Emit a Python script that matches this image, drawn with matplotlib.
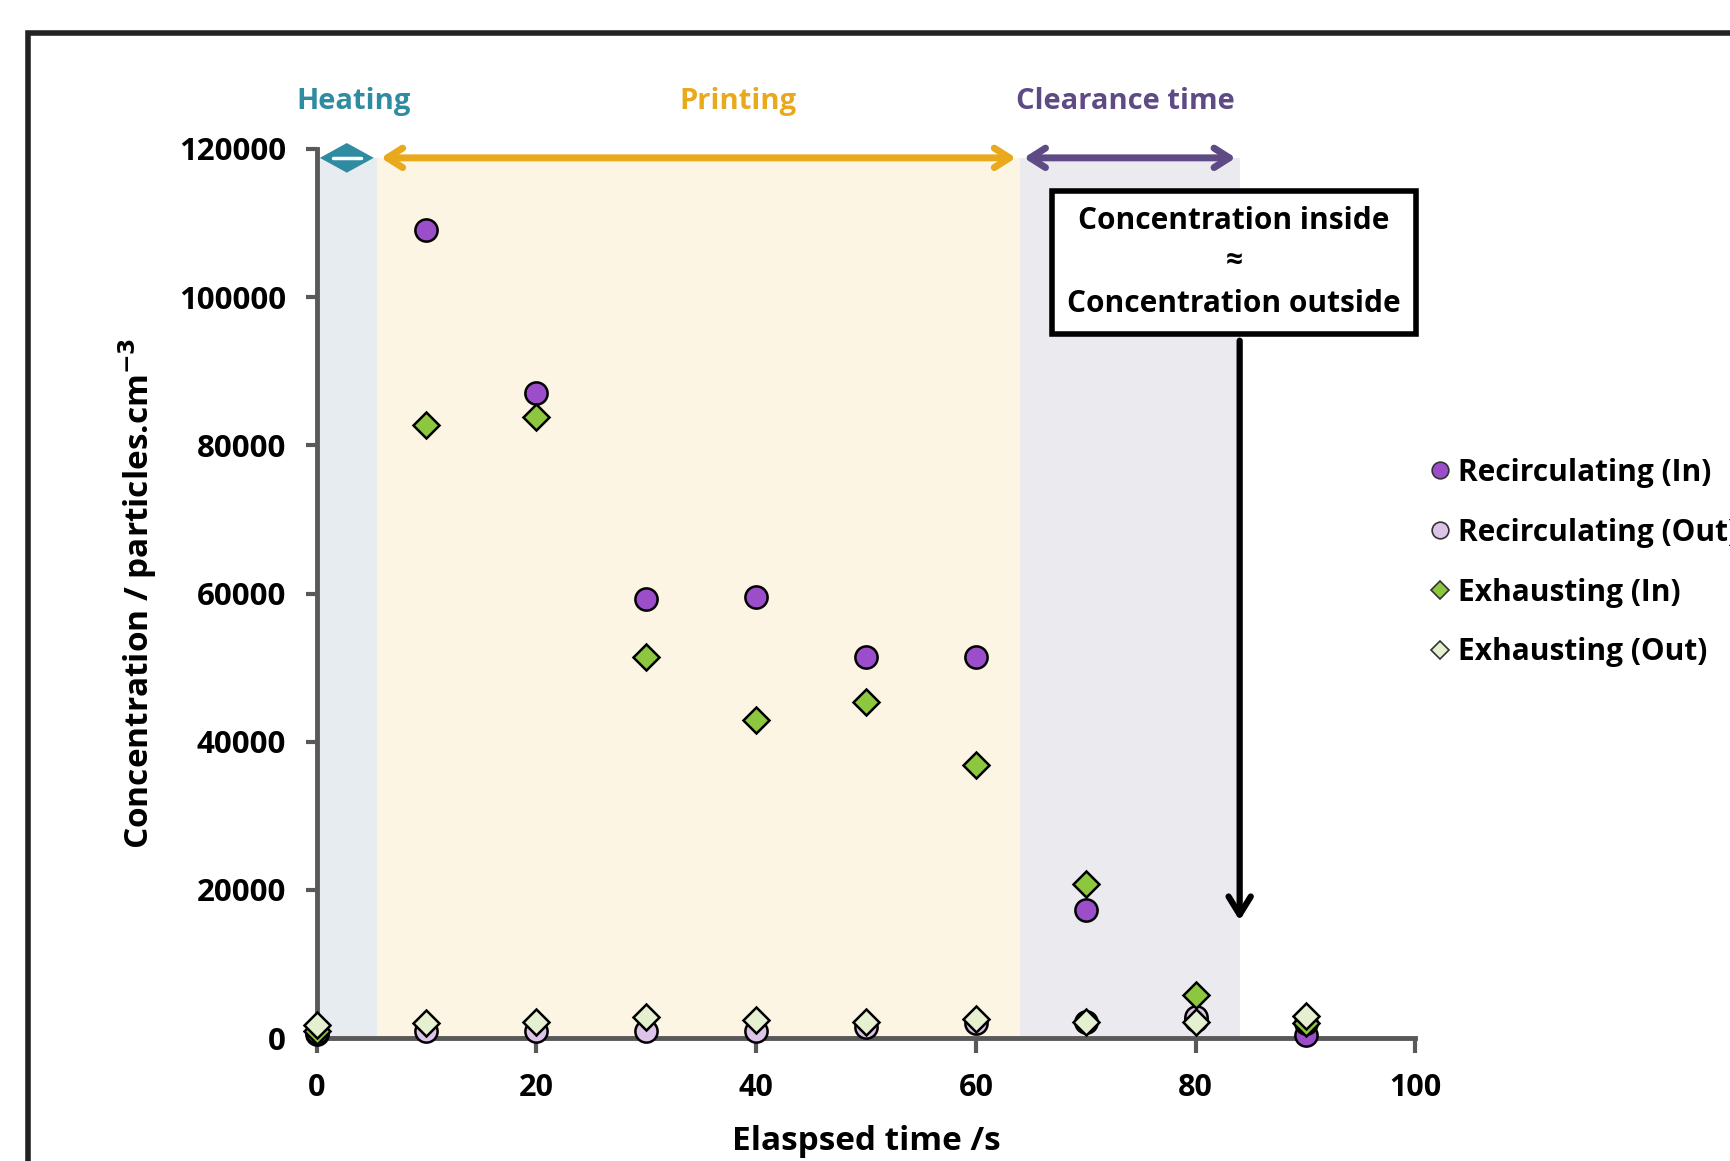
import matplotlib.pyplot as plt
from matplotlib.patches import Rectangle
from matplotlib.lines import Line2D

# data
time_s = [0, 10, 20, 30, 40, 50, 60, 70, 80, 90]
recirc_in = [500, 109000, 87000, 59300, 59500, 51500, 51500, 17300, 2500, 400]
recirc_out = [800, 1000, 1000, 900, 1000, 1500, 2000, 2200, 2800, 2000]
exhaust_in = [1000, 82800, 83800, 51400, 43000, 45300, 36900, 20800, 5800, 2000]
exhaust_out = [1800, 2100, 2200, 2800, 2500, 2200, 2600, 2200, 2200, 3000]

phases = ["Heating", "Printing", "Clearance time"]
phase_start = [0, 5.5, 64]
phase_end = [5.5, 64, 84]

FONT = "Open Sans"
plt.rcParams["font.family"] = [FONT, "DejaVu Sans"]
plt.rcParams["font.weight"] = "bold"

fig = plt.figure(figsize=(17.3, 11.61), dpi=100, facecolor="white")
ax = fig.add_axes([0.183, 0.1058, 0.6352, 0.7659])

# outer frame (runs off the right / bottom edge like the reference)
fig.patches.append(Rectangle((28 / 1730, -0.1), 1.2, 1 - 33 / 1161 + 0.1,
                             transform=fig.transFigure, fill=False,
                             edgecolor="#222222", linewidth=4))

shade = ["#e6ecef", "#fcf5e4", "#ebeaee"]
arrow_col = ["#2f8ba0", "#e8aa1c", "#5e4a85"]
arrow_y = 118800
for s, e, c in zip(phase_start, phase_end, shade):
    ax.axvspan(s, e, ymin=0, ymax=arrow_y / 120000, color=c, lw=0, zorder=0)

# heating arrow: tiny double arrow that reads as a diamond
s, e = phase_start[0] + 0.3, phase_end[0] - 0.3
mid, hh = (s + e) / 2, 2000
ax.fill([s, mid, e, mid], [arrow_y, arrow_y + hh, arrow_y, arrow_y - hh],
        color=arrow_col[0], lw=0, clip_on=False, zorder=5)
ax.plot([s + 1.2, e - 1.2], [arrow_y, arrow_y], color="white", lw=2.5,
        solid_capstyle="round", clip_on=False, zorder=6)
for i in (1, 2):
    ax.annotate("", xy=(phase_start[i] + 0.1, arrow_y), xytext=(phase_end[i] - 0.1, arrow_y),
                arrowprops=dict(arrowstyle="<->,head_length=1.1,head_width=0.7",
                                color=arrow_col[i], lw=5),
                annotation_clip=False, zorder=5)
label_x = [3.4, 38.3, 73.6]
for name, lx, c in zip(phases, label_x, arrow_col):
    ax.text(lx, 126400, name, color=c, fontsize=21, fontweight="bold",
            ha="center", va="center", clip_on=False)

# series
ms = 16
ax.plot(time_s, recirc_in, "o", ms=ms, mfc="#9b4dca", mec="black", mew=1.8, zorder=6, clip_on=False)
ax.plot(time_s, recirc_out, "o", ms=ms, mfc="#dcc3e8", mec="black", mew=1.8, zorder=6, clip_on=False)
ax.plot(time_s, exhaust_in, "D", ms=13, mfc="#8dc63f", mec="black", mew=1.8, zorder=7, clip_on=False)
ax.plot(time_s, exhaust_out, "D", ms=13, mfc="#e4f0cf", mec="black", mew=1.8, zorder=7, clip_on=False)

# annotation box + arrow
ax.annotate("", xy=(84, 15500), xytext=(84, 94500),
            arrowprops=dict(arrowstyle="->,head_length=1.3,head_width=0.8",
                            color="black", lw=4.5), zorder=8)
ax.text(83.5, 104700, "Concentration inside\n\u2248\nConcentration outside",
        ha="center", va="center", fontsize=21.5, fontweight="bold",
        linespacing=1.5, zorder=9,
        bbox=dict(boxstyle="square,pad=0.5", fc="white", ec="black", lw=4))

ax.set_xlim(0, 100)
ax.set_ylim(0, 120000)
ax.set_xticks(range(0, 101, 20))
ax.set_yticks(range(0, 120001, 20000))
ax.set_facecolor("none")
for side in ("top", "right"):
    ax.spines[side].set_visible(False)
for side in ("left", "bottom"):
    ax.spines[side].set_color("#595959")
    ax.spines[side].set_linewidth(3.5)
ax.tick_params(axis="x", length=11, width=3, color="#595959", pad=14, labelsize=22)
ax.tick_params(axis="y", length=8, width=3, color="#595959", pad=14, labelsize=22.5)
for lab in ax.get_xticklabels() + ax.get_yticklabels():
    lab.set_fontweight("bold")

ax.set_xlabel("Elaspsed time /s", fontsize=24, fontweight="bold", labelpad=16)
ax.set_ylabel("Concentration / particles.cm$^{\\mathbf{-3}}$", fontsize=24,
              fontweight="bold", labelpad=14)

handles = [
    Line2D([], [], ls="", marker="o", ms=12, mfc="#9b4dca", mec="#333333", mew=1.2),
    Line2D([], [], ls="", marker="o", ms=12, mfc="#dcc3e8", mec="#333333", mew=1.2),
    Line2D([], [], ls="", marker="D", ms=9, mfc="#8dc63f", mec="#333333", mew=1.2),
    Line2D([], [], ls="", marker="D", ms=9, mfc="#e4f0cf", mec="#333333", mew=1.2),
]
names = ["Recirculating (In)", "Recirculating (Out)", "Exhausting (In)", "Exhausting (Out)"]
fig.legend(handles, names, loc="upper left", bbox_to_anchor=(1404 / 1730, 1 - 431 / 1161),
           frameon=False, handlelength=0.6, handletextpad=0.3,
           labelspacing=1.0, prop={"family": [FONT, "DejaVu Sans"], "weight": "bold", "size": 21.5})

fig.savefig("out.png", dpi=100)
